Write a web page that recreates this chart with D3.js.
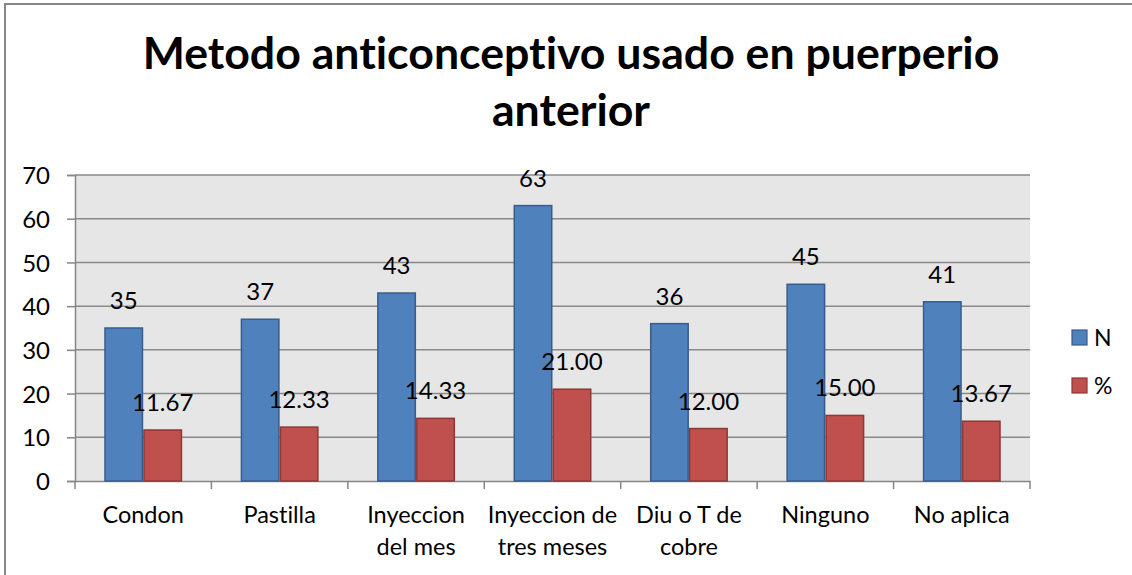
<!DOCTYPE html>
<html>
<head>
<meta charset="utf-8">
<script src="https://cdn.jsdelivr.net/npm/d3@7"></script>
<style>
  html, body { margin: 0; background: white; overflow: hidden; }
  svg { display: block; }
  text { font-family: Lato, "Open Sans", sans-serif; fill: #000; font-variant-ligatures: none; }
</style>
</head>
<body>
<div id="chart"></div>
<script>

var categories = ["Condon", "Pastilla", "Inyeccion|del mes", "Inyeccion de|tres meses", "Diu o T de|cobre", "Ninguno", "No aplica"];
var seriesNames = ["N", "%"];
var valuesN = [35, 37, 43, 63, 36, 45, 41];
var valuesPct = [11.67, 12.33, 14.33, 21.00, 12.00, 15.00, 13.67];
var yTicks = [0, 10, 20, 30, 40, 50, 60, 70];
var titleLines = ["Metodo anticonceptivo usado en puerperio", "anterior"];

var colors = { "N": "#4F81BD", "%": "#C0504D" };
var strokes = { "N": "#385D8A", "%": "#8C3836" };

var svg = d3.select("#chart").append("svg")
              .attr("width", 1132)
              .attr("height", 575);

// outer chart border: only the left and top edges show in the picture
svg.append("path")
   .attr("d", "M5,575 L5,4 L1132,4")
   .attr("fill", "none")
   .attr("stroke", "#888")
   .attr("stroke-width", 2);

var plotLeft = 75, plotRight = 1030, plotTop = 175, plotBottom = 481;

var x0 = d3.scaleBand()
           .domain(categories)
           .range([plotLeft, plotRight]);

var x1 = d3.scaleBand()
           .domain(seriesNames)
           .range([0, x0.bandwidth()])
           .paddingInner(0)
           .paddingOuter(0.75);

var y = d3.scaleLinear()
          .domain([0, 70])
          .range([plotBottom, plotTop]);

// plot background
svg.append("rect")
   .attr("x", plotLeft)
   .attr("y", plotTop)
   .attr("width", plotRight - plotLeft)
   .attr("height", plotBottom - plotTop)
   .attr("fill", "#E6E6E6");

// gridlines
svg.append("g")
   .selectAll("line")
   .data(yTicks.slice(1))
   .enter().append("line")
   .attr("x1", plotLeft)
   .attr("x2", plotRight)
   .attr("y1", function(d) { return y(d); })
   .attr("y2", function(d) { return y(d); })
   .attr("stroke", "#8A8A8A")
   .attr("stroke-width", 1.5);

// y axis
var yAxis = svg.append("g")
               .attr("transform", "translate(" + plotLeft + ",0)")
               .call(d3.axisLeft(y).tickValues(yTicks).tickSize(8).tickPadding(17));
yAxis.select(".domain").attr("stroke", "#868686").attr("stroke-width", 1.5);
yAxis.selectAll(".tick line").attr("stroke", "#868686").attr("stroke-width", 1.5);
yAxis.selectAll(".tick text")
     .attr("font-family", "Lato, 'Open Sans', sans-serif")
     .attr("font-size", "24px")
     .attr("dy", "0.36em")
     .attr("fill", "#000");

// x axis
var xAxis = svg.append("g")
               .attr("transform", "translate(0," + plotBottom + ")")
               .call(d3.axisBottom(x0).tickSize(0).tickFormat(""));
xAxis.select(".domain").attr("stroke", "#868686").attr("stroke-width", 1.5);

// category separator ticks
svg.append("g")
   .selectAll("line")
   .data(d3.range(categories.length + 1))
   .enter().append("line")
   .attr("x1", function(i) { return plotLeft + i * x0.step(); })
   .attr("x2", function(i) { return plotLeft + i * x0.step(); })
   .attr("y1", plotBottom)
   .attr("y2", plotBottom + 8)
   .attr("stroke", "#868686")
   .attr("stroke-width", 1.5);

// category labels
var catLabel = svg.append("g")
                  .selectAll("text")
                  .data(categories)
                  .enter().append("text")
                  .attr("text-anchor", "middle")
                  .attr("font-size", "23.5px");

catLabel.each(function(d) {
  var t = d3.select(this);
  d.split("|").forEach(function(line, i) {
    t.append("tspan")
     .attr("x", x0(d) + x0.bandwidth() / 2)
     .attr("y", 523 + i * 32)
     .text(line);
  });
});

// bars
var groups = svg.append("g")
                .selectAll("g")
                .data(categories)
                .enter().append("g")
                .attr("transform", function(d) { return "translate(" + x0(d) + ",0)"; });

var barData = function(d, i) {
  return [{ key: "N", value: valuesN[i], label: String(valuesN[i]) },
          { key: "%", value: valuesPct[i], label: valuesPct[i].toFixed(2) }];
};

groups.selectAll("rect")
      .data(barData)
      .enter().append("rect")
      .attr("x", function(d) { return x1(d.key) + 0.75; })
      .attr("y", function(d) { return y(d.value); })
      .attr("width", x1.bandwidth() - 1.5)
      .attr("height", function(d) { return plotBottom - y(d.value); })
      .attr("fill", function(d) { return colors[d.key]; })
      .attr("stroke", function(d) { return strokes[d.key]; })
      .attr("stroke-width", 1.5);

groups.selectAll("text")
      .data(barData)
      .enter().append("text")
      .attr("x", function(d) { return x1(d.key) + x1.bandwidth() / 2; })
      .attr("y", function(d) { return y(d.value) - 19; })
      .attr("text-anchor", "middle")
      .attr("font-size", "24px")
      .text(function(d) { return d.label; });

// legend
var legend = svg.append("g")
                .selectAll("g")
                .data(seriesNames)
                .enter().append("g")
                .attr("transform", function(d, i) { return "translate(1072," + (330 + i * 48) + ")"; });

legend.append("rect")
      .attr("width", 15)
      .attr("height", 15)
      .attr("fill", function(d) { return colors[d]; })
      .attr("stroke", function(d) { return strokes[d]; })
      .attr("stroke-width", 1.2);

legend.append("text")
      .attr("x", 22)
      .attr("y", 16)
      .attr("font-size", "23px")
      .text(function(d) { return d; });

// title
var title = svg.append("g")
               .selectAll("text")
               .data(titleLines)
               .enter().append("text")
               .attr("x", 571)
               .attr("y", function(d, i) { return i === 0 ? 69 : 126; })
               .attr("text-anchor", "middle")
               .attr("font-weight", "bold")
               .attr("font-size", "40px")
               .text(function(d) { return d; });

// scale title font so line one spans the same width as the original
var first = title.filter(function(d, i) { return i === 0; }).node();
var fit = 40 * 857 / first.getComputedTextLength();
title.attr("font-size", fit + "px");

</script>
</body>
</html>
